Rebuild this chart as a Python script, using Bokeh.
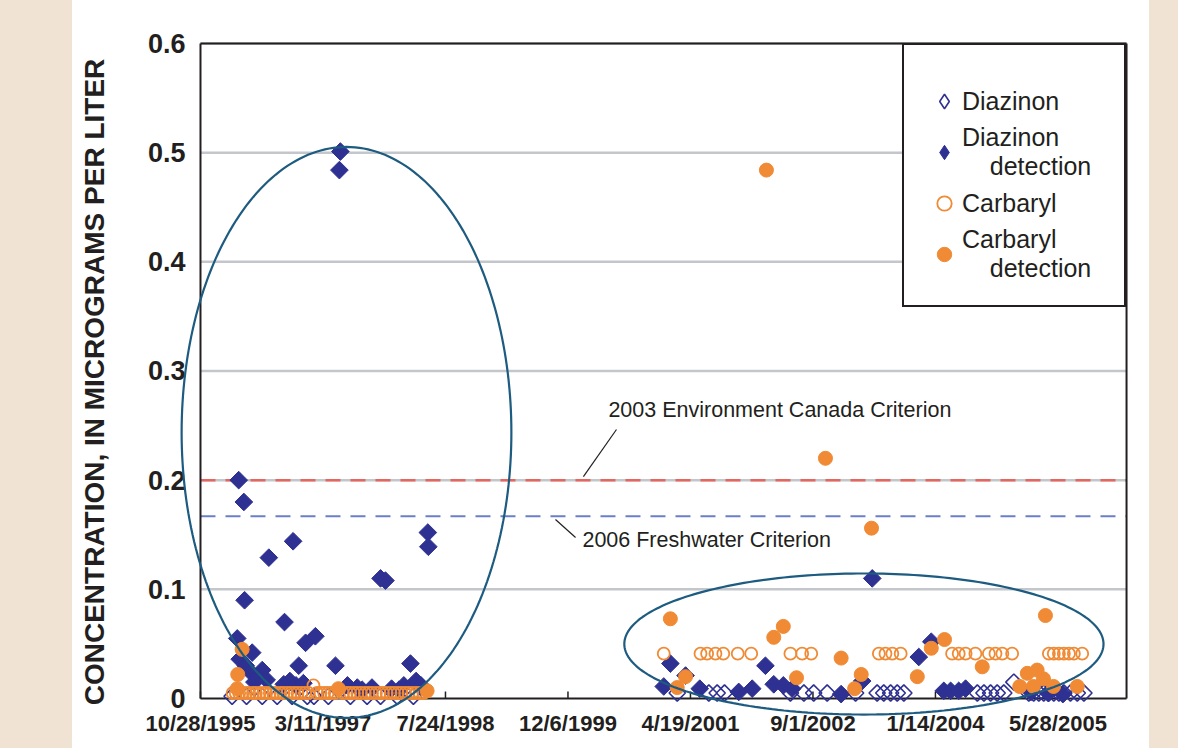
import numpy as np
import pandas as pd
from bokeh.plotting import figure
from bokeh.models import (Range1d, FixedTicker, Legend, LegendItem, Label,
                          Spacer, PolyAnnotation)
from bokeh.layouts import row
from bokeh.embed import file_html
from bokeh.resources import INLINE

# ---------------- data ----------------
# x values are Excel day serials (days since 1899-12-30)
tick_labels = ["10/28/1995", "3/11/1997", "7/24/1998", "12/6/1999",
               "4/19/2001", "9/1/2002", "1/14/2004", "5/28/2005"]
y_ticks = [0, 0.1, 0.2, 0.3, 0.4, 0.5, 0.6]
y_tick_labels = ["0", "0.1", "0.2", "0.3", "0.4", "0.5", "0.6"]

# Diazinon (not detected, open diamonds)
diaz_nd_date = [35129, 35188, 35252, 35313, 35374, 35436, 35463, 35522, 35612,
                35680, 35735, 35803, 35869,
                36946, 37075, 37109, 37139, 37408, 37463, 37503, 37558, 37674,
                37762, 37789, 37817, 37844, 37871, 38171, 38198, 38225, 38252,
                38279, 38320, 38381, 38401, 38422, 38442, 38463, 38483, 38504,
                38524, 38551, 38579, 38606]
diaz_nd_val = [0.002] * 13 + [0.005] * 19 + [0.015] + [0.005] * 11

# Diazinon detection (filled diamonds)
diaz_det_date = [35156, 35177, 35279, 35378, 35180, 35343, 35150, 35469, 35429,
                 35211, 35401, 35160, 35185, 35205, 35252, 35232, 35270, 35220,
                 35340, 35365, 35390, 35420, 35551, 35571, 35567, 35928, 35930,
                 35735, 35755, 35857, 35600, 35640, 35700, 35780, 35830, 35880,
                 35900, 35810, 35660,
                 36918, 36891, 36980, 37038, 37197, 37252, 37306, 37340, 37379,
                 37415, 37615, 37701, 37742, 37932, 37983, 38034, 38062, 38095,
                 38123, 38390, 38460, 38520]
diaz_det_val = [0.200, 0.180, 0.129, 0.144, 0.090, 0.070, 0.055, 0.057, 0.051,
                0.042, 0.030, 0.036, 0.030, 0.024, 0.026, 0.020, 0.017, 0.015,
                0.013, 0.016, 0.012, 0.014, 0.030, 0.501, 0.484, 0.152, 0.139,
                0.110, 0.108, 0.032, 0.012, 0.010, 0.010, 0.009, 0.012, 0.016,
                0.012, 0.008, 0.008,
                0.032, 0.011, 0.021, 0.009, 0.006, 0.009, 0.030, 0.013, 0.012,
                0.009, 0.004, 0.016, 0.110, 0.038, 0.052, 0.007, 0.007, 0.007,
                0.009, 0.006, 0.005, 0.004]

# Carbaryl (not detected, open circles)
carb_nd_date = [35131, 35144, 35158, 35171, 35186, 35199, 35214, 35226, 35241,
                35256, 35268, 35283, 35297, 35310, 35326, 35339, 35354, 35368,
                35383, 35396, 35412, 35426, 35441, 35461, 35476, 35490, 35505,
                35519, 35533, 35548, 35582, 35597, 35611, 35626, 35640, 35655,
                35671, 35686, 35700, 35716, 35731, 35745, 35760, 35776, 35790,
                35805, 35820, 35835, 35849, 35864, 35880, 35895, 35910,
                36891, 37041, 37068, 37102, 37134, 37193, 37248, 37408, 37456,
                37493, 37769, 37796, 37824, 37858, 38068, 38095, 38123, 38163,
                38218, 38245, 38273, 38313, 38463, 38483, 38504, 38524, 38545,
                38565, 38599]
carb_nd_val = [0.005] * 23 + [0.012] + [0.005] * 29 + [0.041] * 29

# Carbaryl detection (filled circles)
carb_det_date = [35170, 35152, 35150, 35563, 35925,
                 36918, 36980, 36946, 37340, 37379, 37433, 37615, 37697, 37670,
                 37926, 37983, 38037, 38191, 38449, 38375, 38415, 38441, 38344,
                 38400, 38482, 38579, 37310, 37551, 37739]
carb_det_val = [0.045, 0.022, 0.009, 0.009, 0.007,
                0.073, 0.020, 0.010, 0.056, 0.066, 0.019, 0.037, 0.022, 0.009,
                0.020, 0.046, 0.054, 0.029, 0.076, 0.023, 0.026, 0.018, 0.011,
                0.011, 0.011, 0.011, 0.484, 0.220, 0.156]

criterion_canada = 0.2
criterion_fresh = 0.167

# ---------------- axis extent ----------------
EPOCH = pd.Timestamp("1899-12-30")
tick_pos = [int((pd.to_datetime(t, format="%m/%d/%Y") - EPOCH).days) for t in tick_labels]
X_MIN, X_MAX = 35000, 38780
Y_MIN, Y_MAX = 0.0, 0.6

BLUE = "#2e3192"
ORANGE = "#f08a34"
INK = "#231f20"
BEIGE = "#f1e3d3"
FONT = "Liberation Sans"

# frame is padded a little beyond the axes so that the ellipses can overhang
p = figure(width=1077, height=748, output_backend="svg", toolbar_location=None,
           x_range=Range1d(34898, 38788), y_range=Range1d(-0.022, 0.6018),
           min_border_left=103, min_border_right=21, min_border_top=41,
           min_border_bottom=26, background_fill_color="white",
           border_fill_color="white", outline_line_color=None)

# axes: labels pulled back onto the data origin (negative standoff)
p.xaxis.ticker = FixedTicker(ticks=tick_pos)
p.xaxis.major_label_overrides = {tp: lab for tp, lab in zip(tick_pos, tick_labels)}
p.xaxis.major_label_text_font = FONT
p.xaxis.major_label_text_font_style = "bold"
p.xaxis.major_label_text_font_size = "22px"
p.xaxis.major_label_text_color = INK
p.xaxis.major_label_standoff = -18
p.xaxis.axis_line_color = None
p.xaxis.major_tick_line_color = None
p.xaxis.minor_tick_line_color = None

p.yaxis.ticker = FixedTicker(ticks=y_ticks)
p.yaxis.major_label_overrides = {t: l for t, l in zip(y_ticks, y_tick_labels)}
p.yaxis.major_label_text_font = FONT
p.yaxis.major_label_text_font_style = "bold"
p.yaxis.major_label_text_font_size = "27px"
p.yaxis.major_label_text_color = INK
p.yaxis.major_label_standoff = -16
p.yaxis.axis_line_color = None
p.yaxis.major_tick_line_color = None
p.yaxis.minor_tick_line_color = None
p.yaxis.axis_label = "CONCENTRATION, IN MICROGRAMS PER LITER"
p.yaxis.axis_label_text_font = FONT
p.yaxis.axis_label_text_font_style = "bold"
p.yaxis.axis_label_text_font_size = "28px"
p.yaxis.axis_label_text_color = INK
p.yaxis.axis_label_standoff = 35

p.xgrid.grid_line_color = None
p.ygrid.grid_line_color = None

# horizontal gridlines
grid_y = y_ticks[1:]
p.segment(x0=[X_MIN] * len(grid_y), x1=[X_MAX] * len(grid_y), y0=grid_y, y1=grid_y,
          line_color="#c3c6ca", line_width=2.5)

# criterion lines
p.segment(x0=[X_MIN], x1=[X_MAX], y0=[criterion_canada], y1=[criterion_canada],
          line_color="#e5665e", line_width=2.5, line_dash="15 10")
p.segment(x0=[X_MIN], x1=[X_MAX], y0=[criterion_fresh], y1=[criterion_fresh],
          line_color="#6b7fc6", line_width=2, line_dash="15 10")

# plot-area border (axis lines) and inward x ticks
p.segment(x0=[X_MIN, X_MIN, X_MIN, X_MAX], y0=[Y_MIN, Y_MIN, Y_MAX, Y_MIN],
          x1=[X_MAX, X_MIN, X_MAX, X_MAX], y1=[Y_MIN, Y_MAX, Y_MAX, Y_MAX],
          line_color=INK, line_width=2)
tick_len = 0.0064
p.segment(x0=tick_pos, x1=tick_pos, y0=[Y_MIN] * len(tick_pos),
          y1=[Y_MIN + tick_len] * len(tick_pos), line_color=INK, line_width=1.5)

# data
r1 = p.scatter(diaz_nd_date, diaz_nd_val, marker="square", angle=np.pi / 4,
               size=11.5, fill_color=None, line_color=BLUE, line_width=1.6)
r2 = p.scatter(diaz_det_date, diaz_det_val, marker="square", angle=np.pi / 4,
               size=12.5, fill_color=BLUE, line_color=BLUE, line_width=1)
r3 = p.scatter(carb_nd_date, carb_nd_val, marker="circle", size=12,
               fill_color=None, line_color=ORANGE, line_width=1.8)
r4 = p.scatter(carb_det_date, carb_det_val, marker="circle", size=14,
               fill_color=ORANGE, line_color=ORANGE, line_width=1)

# legend swatches for the diamond series (the legend ignores marker angle)
lg1 = p.scatter(diaz_nd_date[:1], diaz_nd_val[:1], marker="diamond", fill_color=None,
                line_color=BLUE, line_width=1.6, visible=False)
lg2 = p.scatter(diaz_det_date[:1], diaz_det_val[:1], marker="diamond",
                fill_color=BLUE, line_color=BLUE, visible=False)

# leader lines & labels
p.segment(x0=[36698, 36449], y0=[0.2464, 0.164], x1=[36563, 36531], y1=[0.2033, 0.1475],
          line_color=INK, line_width=1.2)
p.add_layout(Label(x=36665, y=0.2638, text="2003 Environment Canada Criterion",
                   text_font=FONT, text_font_size="21.5px", text_color=INK,
                   text_baseline="middle", text_align="left"))
p.add_layout(Label(x=36559, y=0.1456, text="2006 Freshwater Criterion",
                   text_font=FONT, text_font_size="21.5px", text_color=INK,
                   text_baseline="middle", text_align="left"))

# ellipses (highlight groups)
t = np.linspace(0, 2 * np.pi, 241)
for cx, cy, a, b in [(35596, 0.2437, 673, 0.2615), (37708, 0.0499, 978, 0.0646)]:
    p.add_layout(PolyAnnotation(xs=list(cx + a * np.cos(t)), ys=list(cy + b * np.sin(t)),
                                fill_color=None, fill_alpha=0, line_color="#1d5b80",
                                line_alpha=1, line_width=2.2))

# legend
nb = "\u00a0" * 4
legend = Legend(items=[LegendItem(label="Diazinon", renderers=[lg1]),
                       LegendItem(label="Diazinon\n" + nb + "detection", renderers=[lg2]),
                       LegendItem(label="Carbaryl", renderers=[r3]),
                       LegendItem(label="Carbaryl\n" + nb + "detection", renderers=[r4])],
                location="top_right", margin=2, padding=22, spacing=4,
                glyph_width=36, glyph_height=36, label_standoff=0, label_width=140,
                title="\u00a0", title_text_font_size="12px", title_standoff=2,
                label_text_font=FONT, label_text_font_size="25px",
                label_text_line_height=0.9, label_text_color=INK,
                border_line_color=INK, border_line_width=2, border_line_alpha=1,
                background_fill_color="white", background_fill_alpha=1)
p.add_layout(legend)

layout = row(Spacer(width=72, height=748, styles={"background-color": BEIGE}),
             p,
             Spacer(width=29, height=748, styles={"background-color": BEIGE}))

open("out.html", "w").write(file_html(layout, INLINE))
